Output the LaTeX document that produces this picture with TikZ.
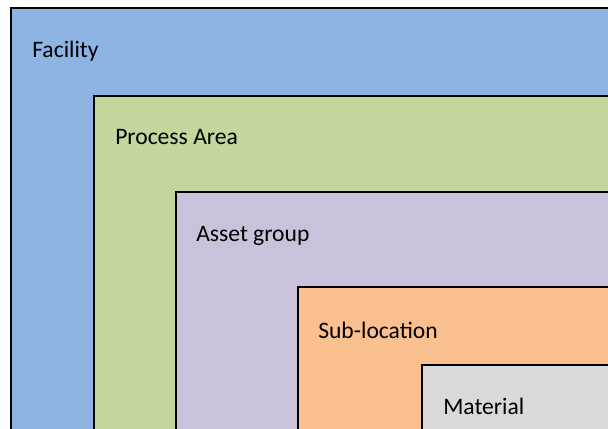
\documentclass[tikz,border=0pt]{standalone}
\usepackage{fontspec}
\setmainfont{Carlito}
\definecolor{cFac}{RGB}{142,180,227}
\definecolor{cPro}{RGB}{195,214,155}
\definecolor{cAss}{RGB}{204,193,218}
\definecolor{cSub}{RGB}{250,192,144}
\definecolor{cMat}{RGB}{217,217,217}
\tikzset{
  layer/.style={draw=black,line width=1.5pt},
  lab/.style={anchor=base west,inner sep=0pt,font=\fontsize{17.7}{21}\selectfont}
}
\begin{document}
\begin{tikzpicture}[x=0.75pt,y=-0.75pt]
\useasboundingbox (0,0) rectangle (608,429);
\clip (0,0) rectangle (608,429);
\fill[white] (0,0) rectangle (608,429);
\filldraw[layer,fill=cFac] (11,8) rectangle (640,460);
\filldraw[layer,fill=cPro] (94,96) rectangle (640,460);
\filldraw[layer,fill=cAss] (176,191.5) rectangle (640,460);
\filldraw[layer,fill=cSub] (298,287) rectangle (640,460);
\filldraw[layer,fill=cMat] (422,365) rectangle (640,460);
\node[lab] (fac) at (32,57) {Facility};
\node[lab] (pro) at (115,144) {Process Area};
\node[lab] (ass) at (196,241.5) {Asset group};
\node[lab] (sub) at (318,338) {Sub-location};
\node[lab] (mat) at (443,414) {Material};
\end{tikzpicture}
\end{document}
